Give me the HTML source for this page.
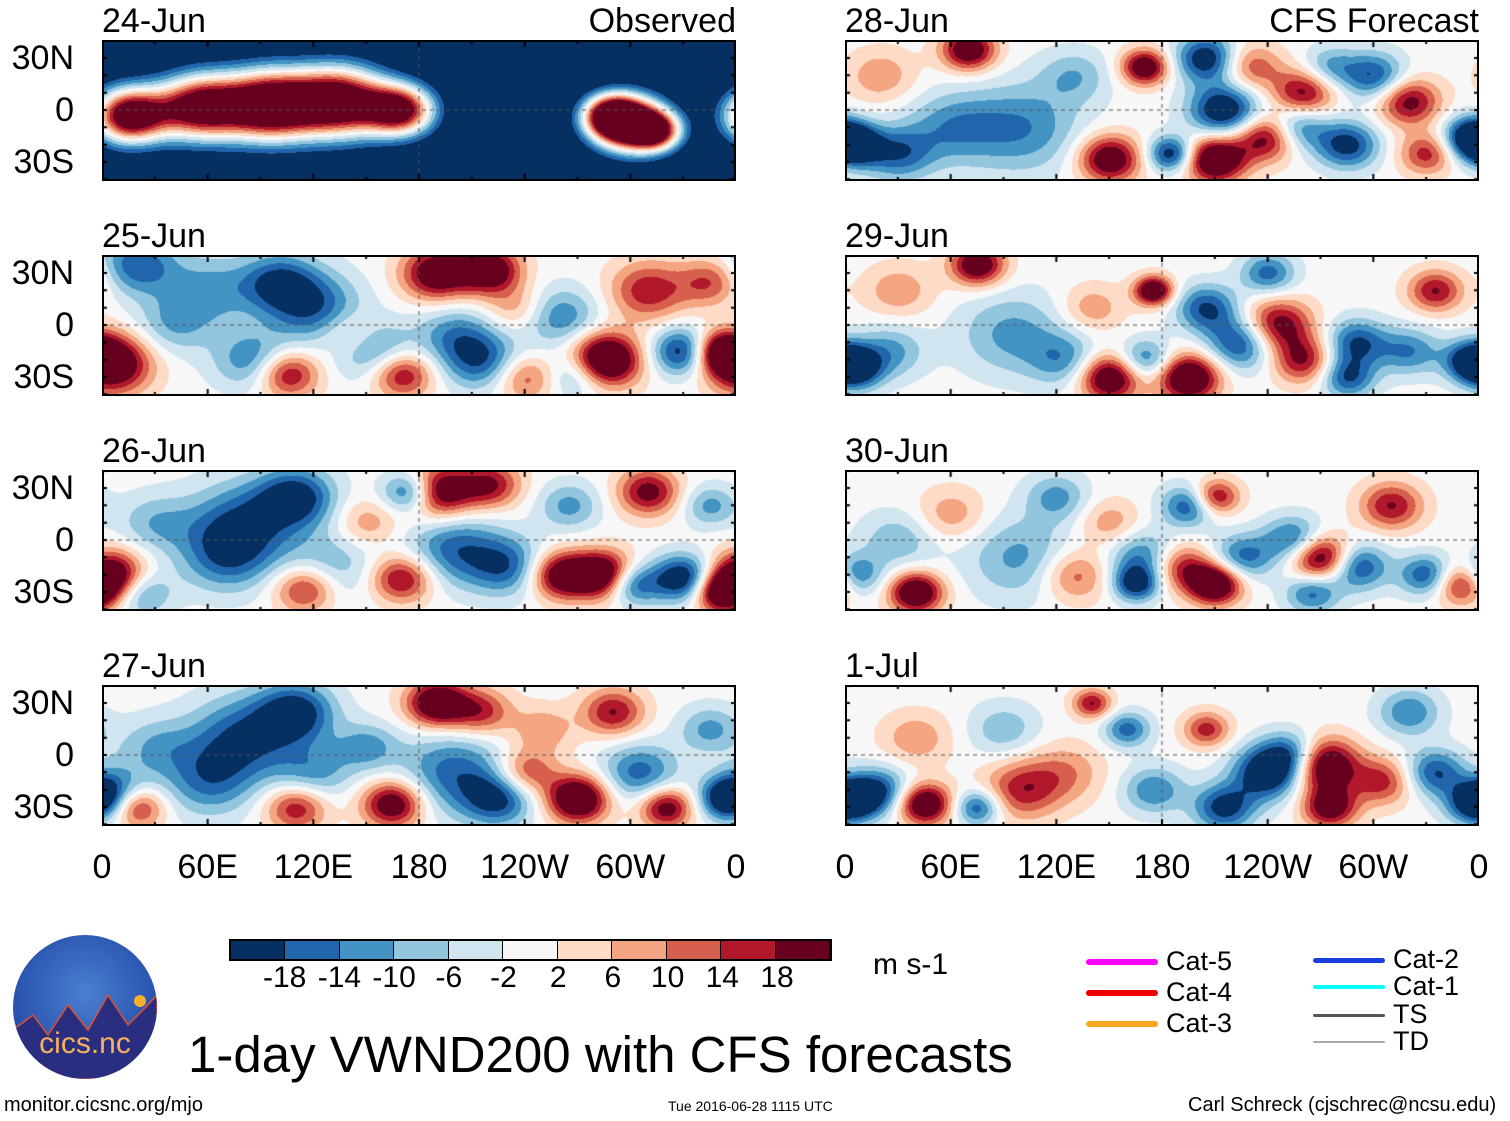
<!DOCTYPE html>
<html><head><meta charset="utf-8"><style>
body{margin:0;background:#fff;width:1510px;height:1121px;overflow:hidden;position:relative;font-family:"Liberation Sans",sans-serif}
.t{position:absolute;white-space:nowrap;color:#000;line-height:1}
canvas{position:absolute}
.pf{position:absolute;border:2px solid #000;box-sizing:border-box}
</style></head><body>
<div id="root"></div>
<script>
// blobs: [lon, lat, amplitude (m/s), radius (deg)]
const panelTitles=["24-Jun","25-Jun","26-Jun","27-Jun","28-Jun","29-Jun","30-Jun","1-Jul"];
const panelBase=[-30,0,0,0,0,0,0,0];
const blobs0=[[15,-3,55,12],[55,2,52,14],[95,3,58,15],[135,5,56,15],[170,0,48,11],[300,-8,55,12],[288,-3,40,9],[315,-12,35,8]];
const blobs1=[[5,-22,25,10],[20,35,-15,10],[60,20,-10,12],[85,-20,-12,10],[100,25,-15,10],[120,10,-15,12],[105,-28,18,8],[155,-15,-12,10],[170,-28,18,8],[190,30,22,9],[220,32,22,8],[200,-5,-10,10],[215,-20,-15,10],[240,-30,12,8],[260,5,-12,10],[285,-20,30,9],[310,20,15,10],[330,-15,-20,8],[350,-15,20,7],[270,-28,-12,8],[345,25,12,8],[40,0,-8,10],[140,-5,8,8],[235,10,8,8]];
const blobs2=[[5,-22,28,9],[20,-30,-15,8],[80,10,-15,14],[110,25,-18,10],[70,-10,-12,12],[130,-15,-8,12],[115,-28,16,8],[175,28,-20,7],[190,28,24,9],[220,32,16,8],[170,-22,18,8],[200,-5,-14,12],[230,-15,-14,10],[260,-20,22,8],[285,-20,26,8],[300,-25,-18,7],[310,28,18,8],[330,-22,-22,8],[350,-30,20,7],[265,20,-10,8],[345,20,-10,7],[30,10,-8,10],[150,10,8,8]];
const blobs3=[[5,-20,-12,9],[20,-30,16,7],[80,10,-16,14],[110,25,-18,10],[60,-15,-12,12],[120,-10,-10,10],[110,-30,16,8],[190,30,24,8],[215,25,14,8],[165,-28,22,8],[200,-10,-14,14],[225,-25,-16,9],[240,-10,14,8],[270,-25,26,8],[290,25,16,8],[305,-10,-14,10],[320,-30,20,7],[355,-25,-20,7],[345,15,-10,8],[150,5,-10,8],[30,5,-8,10],[250,15,8,8]];
const blobs4=[[5,-20,-22,7],[30,-25,-14,9],[70,35,22,7],[100,-10,-12,15],[60,-10,-10,12],[150,-28,22,8],[170,25,22,6],[185,-25,-20,6],[205,30,-20,8],[215,0,-22,9],[210,-28,26,8],[240,-15,22,8],[260,10,18,8],[255,-10,-16,8],[285,-20,-18,8],[300,20,-16,8],[320,5,18,8],[330,-25,14,7],[355,-15,-20,7],[230,25,12,8],[275,25,-10,7],[20,20,8,9],[130,20,-8,9]];
const blobs5=[[5,-25,-20,7],[25,-15,-10,9],[75,35,22,7],[95,-5,-10,14],[150,-30,24,8],[175,20,24,5],[170,-20,-14,7],[195,-30,26,8],[205,10,-16,8],[225,-10,-18,9],[245,0,20,9],[240,30,-14,7],[260,-20,16,8],[290,-10,-16,8],[285,-30,-16,7],[320,-15,-12,8],[335,20,16,7],[355,-20,-18,7],[125,-20,-10,9],[30,20,8,9],[140,10,8,8]];
const blobs6=[[5,-20,-14,7],[40,-30,24,7],[30,0,-8,10],[100,-10,-10,14],[130,-20,12,9],[170,-10,-14,9],[165,-25,-18,6],[195,20,-16,7],[210,25,18,6],[190,-15,16,8],[210,-25,26,7],[225,-10,-14,8],[255,0,-16,8],[270,-10,26,8],[265,-30,-14,7],[290,-15,-18,8],[310,20,16,8],[330,-20,-16,7],[350,-25,18,7],[120,25,-10,8],[60,15,8,9],[150,10,8,8]];
const blobs7=[[5,-25,-20,7],[20,-20,-14,8],[45,-28,24,7],[75,-30,-16,6],[100,-20,14,10],[140,30,16,5],[160,15,-14,6],[175,-20,-12,8],[205,15,14,6],[215,-30,-18,8],[240,-10,-22,9],[255,0,-18,8],[270,-5,28,9],[275,-30,20,7],[305,-15,14,8],[320,25,-12,8],[335,-10,-16,8],[355,-28,-14,7],[125,-10,8,10],[40,10,8,9],[90,15,-8,9]];
const allBlobs=[blobs0,blobs1,blobs2,blobs3,blobs4,blobs5,blobs6,blobs7];
const cbLevels=[-18,-14,-10,-6,-2,2,6,10,14,18];
const cbColors=["#053061","#2166ac","#4393c3","#92c5de","#d1e5f0","#f7f7f7","#fddbc7","#f4a582","#d6604d","#b2182b","#67001f"];
const lonTicks=["0","60E","120E","180","120W","60W","0"];
const latTicks=["30N","0","30S"];
</script>
<script>
const root=document.getElementById('root');
const W=634,H=141;
const cols=[102,845], rows=[40,255,470,685];
const xOf=lon=>lon/360*W, yOf=lat=>(110-40)-lat*1.733;
function lonOfX(x){return x/W*360;} function latOfY(y){return (70-y)/1.733;}
function rgb(h){return [parseInt(h.slice(1,3),16),parseInt(h.slice(3,5),16),parseInt(h.slice(5,7),16)];}
const cRGB=cbColors.map(rgb);
function colorIdx(v){let i=0;while(i<cbLevels.length&&v>=cbLevels[i])i++;return i;}
function txt(s,x,y,size,name,extra){const d=document.createElement('div');d.className='t';d.textContent=s;d.style.left=x+'px';d.style.top=y+'px';d.style.fontSize=size+'px';if(extra)Object.assign(d.style,extra);


root.appendChild(d);return d;}
for(let p=0;p<8;p++){
  const X=cols[p<4?0:1],Y=rows[p%4];
  const rs=p===0?1:1.2, as=p===0?1:1.15;
  const cv=document.createElement('canvas');cv.width=W;cv.height=H;cv.style.left=X+'px';cv.style.top=Y+'px';
  
  
  root.appendChild(cv);
  const ctx=cv.getContext('2d');const img=ctx.createImageData(W,H);const bl=allBlobs[p];
  for(let y=0;y<H;y++){const lat=latOfY(y);for(let x=0;x<W;x++){const lon=lonOfX(x);let v=panelBase[p];
    for(const b of bl){let dl=Math.abs(lon-b[0]);if(dl>180)dl=360-dl;const r=b[3]*rs;const dd=(dl*dl*0.6+(lat-b[1])*(lat-b[1]))/(2*r*r);if(dd<9)v+=as*b[2]*Math.exp(-dd);}
    const c=cRGB[colorIdx(v)];const k=(y*W+x)*4;img.data[k]=c[0];img.data[k+1]=c[1];img.data[k+2]=c[2];img.data[k+3]=255;}}
  ctx.putImageData(img,0,0);
  ctx.strokeStyle='#555';ctx.setLineDash([4,4]);ctx.lineWidth=1;ctx.beginPath();ctx.moveTo(0,yOf(0));ctx.lineTo(W,yOf(0));ctx.moveTo(xOf(180),0);ctx.lineTo(xOf(180),H);ctx.stroke();
  ctx.setLineDash([]);ctx.strokeStyle='#000';ctx.lineWidth=2;
  for(let i=0;i<=12;i++){const x=xOf(i*30);ctx.beginPath();ctx.moveTo(x,0);ctx.lineTo(x,i%2?4:7);ctx.moveTo(x,H);ctx.lineTo(x,H-(i%2?4:7));ctx.stroke();}
  for(let l=-40;l<=40;l+=10){const y=yOf(l);ctx.beginPath();ctx.moveTo(0,y);ctx.lineTo(5,y);ctx.moveTo(W,y);ctx.lineTo(W-5,y);ctx.stroke();}
  const f=document.createElement('div');f.className='pf';Object.assign(f.style,{left:X+'px',top:Y+'px',width:W+'px',height:H+'px'});
  
  
  root.appendChild(f);
  txt(panelTitles[p],X,Y-36,34,'panel-date-title');
  if(p===0)txt('Observed',X+W-150,Y-36,34,'observed-label',{width:'150px',textAlign:'right'});
  if(p===4)txt('CFS Forecast',X+W-230,Y-36,34,'cfs-forecast-label',{width:'230px',textAlign:'right'});
  if(p<4)latTicks.forEach((s,i)=>txt(s,0,Y+yOf([30,0,-30][i])-17,34,'lat-tick-label',{width:'74px',textAlign:'right'}));
  if(p%4===3)lonTicks.forEach((s,i)=>txt(s,X+xOf(i*60)-70,850,34,'lon-tick-label',{width:'140px',textAlign:'center'}));
}
const cb=document.createElement('div');cb.style.cssText='position:absolute;left:229px;top:939px;width:603px;height:22px;border:2px solid #000;display:flex;box-sizing:border-box';


cbColors.forEach(c=>{const s=document.createElement('div');s.style.cssText='flex:1;background:'+c+';border-right:1px solid #000';cb.appendChild(s);});
root.appendChild(cb);
cbLevels.forEach((v,i)=>txt(String(v),230+(i+1)*54.7-30,963,30,'colorbar-tick-label',{width:'60px',textAlign:'center'}));
txt('m s-1',873,950,30,'colorbar-units');
txt('1-day VWND200 with CFS forecasts',188,1029,51,'chart-title');
txt('monitor.cicsnc.org/mjo',4,1095,20,'source-url');
txt('Tue 2016-06-28 1115 UTC',668,1099,14,'timestamp');
txt('Carl Schreck (cjschrec@ncsu.edu)',1188,1095,20,'author-credit');
const leg=[['Cat-5','#ff00ff',1086,962,6],['Cat-4','#ee0000',1086,993,6],['Cat-3','#f5a623',1086,1024,6],['Cat-2','#1a3fe0',1313,960,5],['Cat-1','#00ffff',1313,987,4],['TS','#555',1313,1015,3],['TD','#aaa',1313,1042,2]];
leg.forEach(l=>{const d=document.createElement('div');d.style.cssText=`position:absolute;left:${l[2]}px;top:${l[3]-l[4]/2}px;width:72px;height:${l[4]}px;background:${l[1]};border-radius:3px`;


root.appendChild(d);txt(l[0],l[2]+80,l[3]-14,27,'legend-label');});
const lg=document.createElement('div');lg.style.cssText='position:absolute;left:13px;top:935px;width:144px;height:144px;border-radius:50%;background:radial-gradient(circle at 50% 40%,#4a7fd0,#2a55b0 60%,#1e3f99);overflow:hidden';


lg.innerHTML='<svg width="144" height="144" style="position:absolute;left:0;top:0"><polygon points="0,95 20,80 35,100 55,70 75,95 95,60 115,90 130,75 144,60 144,144 0,144" fill="#2a2e80" stroke="#e05030" stroke-width="1.5"/><circle cx="127" cy="66" r="6" fill="#f5b030"/></svg><div style="position:absolute;left:0;width:144px;top:92px;text-align:center;color:#f5b060;font-size:30px;font-family:Liberation Sans,sans-serif">cics.nc</div>';
root.appendChild(lg);
</script>
</body></html>
